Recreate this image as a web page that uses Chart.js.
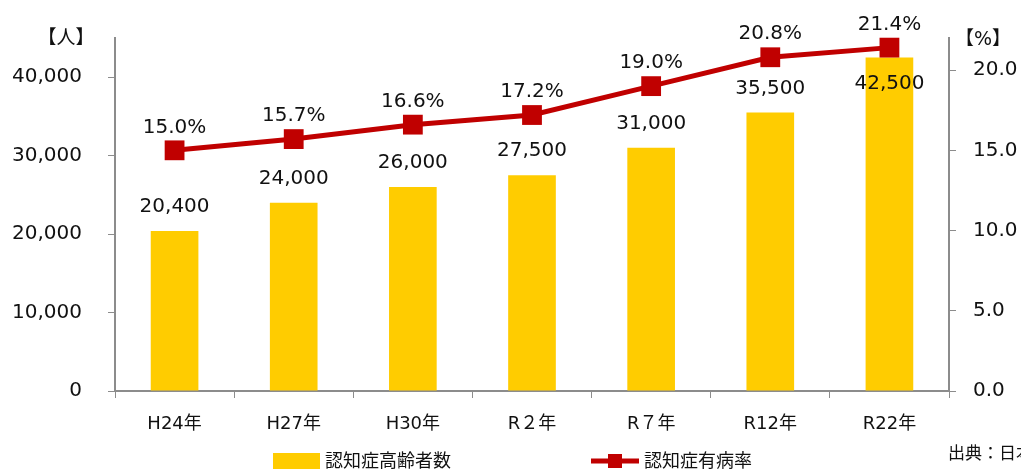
<!DOCTYPE html>
<html>
<head>
<meta charset="utf-8">
<script src="https://cdn.jsdelivr.net/npm/chart.js@4"></script>
<style>
  html, body { margin: 0; padding: 0; background: #fff; }
  #wrap { width: 1021px; height: 473px; }
</style>
</head>
<body>
<div id="wrap"><canvas id="myChart" width="1021" height="473"></canvas></div>
<script>
// データ
const categories = ["H24年", "H27年", "H30年", "R２年", "R７年", "R12年", "R22年"];
const patients = [20400, 24000, 26000, 27500, 31000, 35500, 42500];
const rates = [15.0, 15.7, 16.6, 17.2, 19.0, 20.8, 21.4];
const leftTicks = [0, 10000, 20000, 30000, 40000];
const rightTicks = [0, 5, 10, 15, 20];

const barLabel = "認知症高齢者数";
const lineLabel = "認知症有病率";

const FONT = '"DejaVu Sans", "Noto Sans CJK JP", sans-serif';
const BAR_COLOR = "#FFCC00";
const LINE_COLOR = "#C00000";
const AXIS_COLOR = "#8c8c8c";

// 値ラベル・凡例・単位を描くプラグイン
const labelPlugin = {
  id: "labels",
  afterDatasetsDraw(chart) {
    const ctx = chart.ctx;
    ctx.save();
    ctx.font = "20px " + FONT;
    ctx.fillStyle = "#111";
    ctx.textAlign = "center";
    ctx.textBaseline = "middle";

    const barMeta = chart.getDatasetMeta(1);
    barMeta.data.forEach((el, i) => {
      const txt = patients[i].toLocaleString("en-US");
      // 最後の棒はラベルを棒の中に入れる
      const y = i === patients.length - 1 ? el.y + 26 : el.y - 24;
      ctx.fillText(txt, el.x, y);
    });

    const lineMeta = chart.getDatasetMeta(0);
    lineMeta.data.forEach((el, i) => {
      ctx.fillText(rates[i].toFixed(1) + "%", el.x, el.y - 23);
    });
    ctx.restore();
  },
  afterDraw(chart) {
    const ctx = chart.ctx;
    ctx.save();
    ctx.fillStyle = "#111";
    ctx.textBaseline = "middle";

    // 単位
    ctx.font = "19px " + FONT;
    ctx.textAlign = "center";
    ctx.fillText("【人】", 66, 39);
    ctx.fillText("【%】", 983, 40);

    // 凡例
    ctx.textAlign = "left";
    ctx.font = "18px " + FONT;
    ctx.fillStyle = BAR_COLOR;
    ctx.fillRect(273, 453, 47, 16);
    ctx.fillStyle = "#111";
    ctx.fillText(barLabel, 325, 462);

    ctx.strokeStyle = LINE_COLOR;
    ctx.lineWidth = 5;
    ctx.beginPath();
    ctx.moveTo(591, 461);
    ctx.lineTo(639, 461);
    ctx.stroke();
    ctx.fillStyle = LINE_COLOR;
    ctx.fillRect(608, 454, 14, 14);
    ctx.fillStyle = "#111";
    ctx.fillText(lineLabel, 644, 462);

    // 出典
    ctx.font = "17px " + FONT;
    ctx.fillText("出典：日本医療研究開発機構", 948, 455);
    ctx.restore();
  }
};

const ctx = document.getElementById("myChart").getContext("2d");

const chart = new Chart(ctx, {
  type: "bar",
  data: {
    labels: categories,
    datasets: [
      {
        type: "line",
        label: lineLabel,
        data: rates,
        yAxisID: "y1",
        borderColor: LINE_COLOR,
        backgroundColor: LINE_COLOR,
        borderWidth: 5,
        pointStyle: "rect",
        pointRadius: 14,
        pointHoverRadius: 14,
        pointBorderWidth: 0,
        tension: 0,
        clip: false,
        order: 0
      },
      {
        type: "bar",
        label: barLabel,
        data: patients,
        yAxisID: "y",
        backgroundColor: BAR_COLOR,
        barPercentage: 0.4,
        categoryPercentage: 1.0,
        order: 1
      }
    ]
  },
  options: {
    responsive: false,
    animation: false,
    events: [],
    layout: { padding: { top: 38, left: 0, right: 0, bottom: 0 } },
    plugins: {
      legend: { display: false },
      tooltip: { enabled: false }
    },
    scales: {
      x: {
        offset: true,
        grid: {
          offset: true,
          drawOnChartArea: false,
          color: AXIS_COLOR,
          tickLength: 7
        },
        border: { color: AXIS_COLOR, width: 2 },
        ticks: {
          color: "#111",
          font: { family: FONT, size: 18 },
          padding: 16,
          maxRotation: 0
        },
        afterFit(scale) { scale.height = 82; }
      },
      y: {
        position: "left",
        min: 0,
        max: 45000,
        afterBuildTicks(scale) {
          scale.ticks = leftTicks.map(v => ({ value: v }));
        },
        grid: { drawOnChartArea: false, color: AXIS_COLOR, tickLength: 7 },
        border: { color: AXIS_COLOR, width: 2 },
        ticks: {
          color: "#111",
          font: { family: FONT, size: 20 },
          padding: 26,
          callback: v => v.toLocaleString("en-US")
        },
        afterFit(scale) { scale.width = 115; }
      },
      y1: {
        position: "right",
        min: 0,
        max: 22,
        afterBuildTicks(scale) {
          scale.ticks = rightTicks.map(v => ({ value: v }));
        },
        grid: { drawOnChartArea: false, color: AXIS_COLOR, tickLength: 7 },
        border: { color: AXIS_COLOR, width: 2 },
        ticks: {
          color: "#111",
          font: { family: FONT, size: 20 },
          padding: 17,
          callback: v => Number(v).toFixed(1)
        },
        afterFit(scale) { scale.width = 72; }
      }
    }
  },
  plugins: [labelPlugin]
});
</script>
</body>
</html>
